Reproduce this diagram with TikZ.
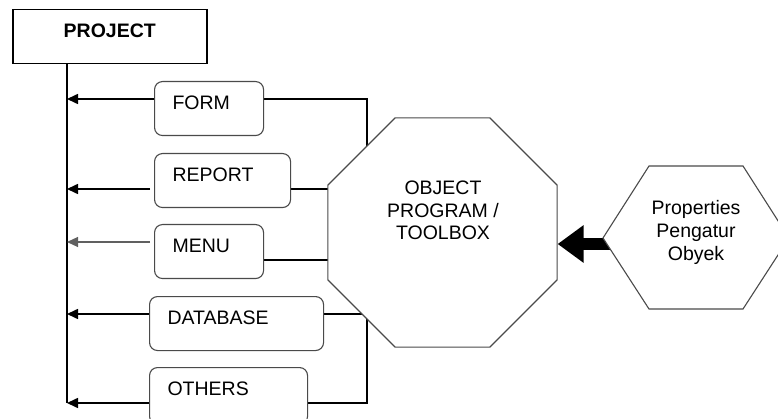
\documentclass[tikz,border=0pt]{standalone}
\usepackage{fontspec}
\setmainfont{Liberation Sans}
\usetikzlibrary{arrows.meta,shapes.geometric}
\pgfdeclarelayer{background}
\pgfsetlayers{background,main}
\definecolor{edgegray}{HTML}{4A4A4A}
\begin{document}
\begin{tikzpicture}[x=1pt,y=-1pt,
  every node/.style={font=\fontsize{19.5}{22.7}\selectfont},
  conn/.style={line width=1.6pt, black},
  arr/.style={conn, -{Triangle[length=11pt,width=10pt]}},
  thinarr/.style={line width=1.1pt, gray!75!black, -{Triangle[length=11pt,width=10pt]}},
  itembox/.style={draw=edgegray, line width=1.1pt, rounded corners=8pt, fill=white,
    anchor=north west, align=left, inner xsep=18pt, inner ysep=0pt,
    text height=28.3pt, text depth=25.7pt},
  mainbox/.style={draw=black, line width=1.5pt, fill=white, anchor=north west,
    minimum width=194pt, inner sep=0pt, text height=27.7pt, text depth=26.3pt,
    font=\fontsize{19.5}{22.7}\selectfont\bfseries},
  octa/.style={regular polygon, regular polygon sides=8, minimum size=248pt,
    draw=edgegray, line width=1.1pt, fill=white, inner sep=0pt},
  hexa/.style={draw=edgegray, line width=1.1pt, fill=white},
  bigarrow/.style={line width=12pt, black, -{Triangle[length=26pt,width=36pt]}}
]
\useasboundingbox (0,0) rectangle (778,419);
\clip (0,0) rectangle (778,419);

% project root and the program parts
\node[mainbox] (proj) at (12,9) {PROJECT};
\node[itembox, text width=73pt]  (form)     at (154,81)  {FORM};
\node[itembox, text width=100pt] (report)   at (154,153) {REPORT};
\node[itembox, text width=73pt]  (menu)     at (154,224) {MENU};
\node[itembox, text width=138pt] (database) at (149,296) {DATABASE};
\node[itembox, text width=122pt, text depth=28.5pt] (others) at (149,367) {OTHERS};

% object program / toolbox
\node[octa] (obj) at (442.5,232.5) {};
\node[align=center] (objtxt) at (443,210.5) {OBJECT\\PROGRAM /\\TOOLBOX};

% properties
\draw[hexa] (603,238) -- (649,166) -- (743,166) -- (789,238) -- (743,309) -- (649,309) -- cycle;
\node[align=center] (props) at (696,232.5) {Properties\\Pengatur\\Obyek};

% helper points
\coordinate (ttop) at (67,63);
\coordinate (tbot) at (67,403);
\coordinate (rb) at (367,232);
\coordinate (hx) at (696,244);

\path ([yshift=-18pt]form.north west) coordinate (fa)
      ([yshift=-18pt]form.north east) coordinate (fb)
      ([yshift=-36pt,xshift=-4pt]report.north west) coordinate (ra)
      ([yshift=-36pt]report.north east) coordinate (rbb)
      ([yshift=-18pt,xshift=-4pt]menu.north west) coordinate (ma)
      ([yshift=-36pt]menu.north east) coordinate (mb)
      ([yshift=-18pt]database.north west) coordinate (da)
      ([yshift=-18pt]database.north east) coordinate (db)
      ([yshift=-36pt]others.north west) coordinate (oa)
      ([yshift=-36pt]others.north east) coordinate (ob);

\begin{pgfonlayer}{background}
  % trunk from the project box
  \draw[conn] (proj.south -| ttop) -- (tbot);
  % parts feeding the project
  \draw[arr] (fa) -- (fa -| ttop);
  \draw[arr] (ra) -- (ra -| ttop);
  \draw[thinarr] (ma) -- (ma -| ttop);
  \draw[arr] (da) -- (da -| ttop);
  \draw[arr] (oa) -- (oa -| ttop);
  % links to the toolbox
  \draw[conn] (fb) -| (rb);
  \draw[conn] (ob) -| (rb);
  \draw[conn] (rbb) -- (rbb -| obj.center);
  \draw[conn] (mb) -- (mb -| obj.center);
  \draw[conn] (db) -- (db -| obj.center);
  % properties into the toolbox
  \draw[bigarrow] (hx) -- (obj.east |- hx);
\end{pgfonlayer}
\end{tikzpicture}
\end{document}
